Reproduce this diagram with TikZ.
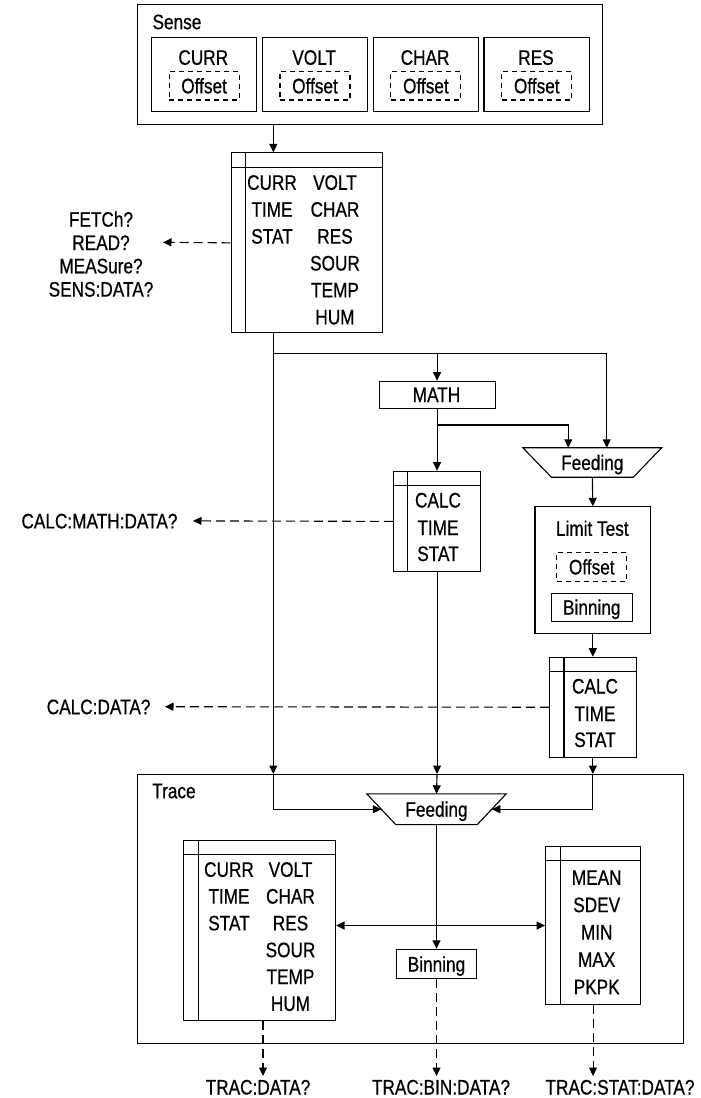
\documentclass[tikz,border=0pt]{standalone}
\usepackage{fontspec}
\setmainfont{Liberation Sans}[FakeStretch=0.82,FakeBold=0.6]
\usetikzlibrary{arrows.meta}
\begin{document}
\begin{tikzpicture}[x=1pt,y=-1pt,line width=1.1pt,
  every node/.style={font=\fontsize{21}{25}\selectfont},
  txt/.style={inner sep=0pt,text height=15pt,text depth=0pt},
  box/.style={draw,inner sep=0pt,anchor=north west},
  cbox/.style={draw,inner sep=0pt,text height=15pt,text depth=0pt},
  dbox/.style={cbox,dash pattern=on 5pt off 4pt},
  arr/.style={-{Triangle[length=8.5pt,width=8pt]}},
  darr/.style={arr,dash pattern=on 9pt off 5pt},
  tbl/.style={box,path picture={
    \draw ([yshift=-14.5pt]path picture bounding box.north west) -- ([yshift=-14.5pt]path picture bounding box.north east);
    \draw ([xshift=14.5pt]path picture bounding box.north west) -- ([xshift=14.5pt]path picture bounding box.south west);}}]
\useasboundingbox (0,0) rectangle (701,1098);

% ---------- Sense ----------
\node[box,minimum width=465.6pt,minimum height=120.3pt] (sense) at (136.7,4) {};
\node[txt,anchor=west] (senseL) at (152,21.7) {Sense};
\foreach \n/\x in {CURR/150.7,VOLT/261.6,CHAR/372.5,RES/483.4}{
  \node[box,minimum width=105.2pt,minimum height=73.7pt] (b\n) at (\x,37.3) {};
  \node[txt] (t\n) at ({\x+52.6},57.3) {\n};
  \node[dbox,minimum width=70pt,minimum height=28.3pt] (o\n) at ({\x+53.4},85.8) {Offset};
}

% ---------- main data table ----------
\node[tbl,minimum width=151.6pt,minimum height=180pt] (main) at (230.7,152.3) {};
\foreach \t [count=\i] in {CURR,TIME,STAT}
  \node[txt,name=mL\i] at (272,{182.3+26.9*(\i-1)}) {\t};
\foreach \t [count=\i] in {VOLT,CHAR,RES,SOUR,TEMP,HUM}
  \node[txt,name=mR\i] at (335,{182.3+26.9*(\i-1)}) {\t};

\node[txt] (q1) at (101,219.2) {FETCh?};
\node[txt] (q2) at (101,242.5) {READ?};
\node[txt] (q3) at (101,265.8) {MEASure?};
\node[txt] (q4) at (101,289.1) {SENS:DATA?};

% ---------- MATH / Feeding / Limit ----------
\node[box,minimum width=116pt,minimum height=27.6pt] (math) at (378.5,380.7) {};
\node[txt] (mathT) at (436.5,394.5) {MATH};

\node[inner sep=0pt,minimum width=137.7pt,minimum height=28.4pt,text height=15pt,text depth=0pt] (feed1) at (592.3,462.5) {Feeding};
\draw (feed1.north west) -- (feed1.north east) -- ([xshift=-28.5pt]feed1.south east) -- ([xshift=28.5pt]feed1.south west) -- cycle;

\node[tbl,minimum width=87.3pt,minimum height=100.3pt] (calc1) at (392.85,470.7) {};
\foreach \t/\y [count=\i] in {CALC/500,TIME/527.5,STAT/553.5}
  \node[txt,name=c1\i] at (438,\y) {\t};

\node[box,minimum width=115.7pt,minimum height=127pt] (limit) at (534.45,506.3) {};
\node[txt] (limitT) at (592.3,528.3) {Limit Test};
\node[dbox,minimum width=70pt,minimum height=28.3pt] (limO) at (591.8,566.9) {Offset};
\node[cbox,minimum width=81.3pt,minimum height=27.7pt] (bin1) at (591.8,607.2) {Binning};

\node[tbl,minimum width=86.7pt,minimum height=100pt] (calc2) at (548.95,656.7) {};
\foreach \t/\y [count=\i] in {CALC/686,TIME/713.5,STAT/739.5}
  \node[txt,name=c2\i] at (595,\y) {\t};

\node[txt,anchor=east] (qm) at (178,520.9) {CALC:MATH:DATA?};
\node[txt,anchor=east] (qd) at (151,706.7) {CALC:DATA?};

% ---------- Trace ----------
\node[box,minimum width=545.9pt,minimum height=269pt] (trace) at (136.7,774) {};
\node[txt,anchor=west] (traceL) at (151.7,790.7) {Trace};

\node[inner sep=0pt,minimum width=138.4pt,minimum height=29.7pt,text height=15pt,text depth=0pt] (feed2) at (436.5,809.2) {Feeding};
\draw (feed2.north west) -- (feed2.north east) -- ([xshift=-29pt]feed2.south east) -- ([xshift=29pt]feed2.south west) -- cycle;

\node[tbl,minimum width=151.7pt,minimum height=180.5pt] (trL) at (183.3,839.7) {};
\foreach \t [count=\i] in {CURR,TIME,STAT}
  \node[txt,name=tL\i] at (229,{869.3+26.8*(\i-1)}) {\t};
\foreach \t [count=\i] in {VOLT,CHAR,RES,SOUR,TEMP,HUM}
  \node[txt,name=tR\i] at (290.5,{869.3+26.8*(\i-1)}) {\t};

\node[tbl,minimum width=95pt,minimum height=158.6pt] (trM) at (545,845.7) {};
\foreach \t [count=\i] in {MEAN,SDEV,MIN,MAX,PKPK}
  \node[txt,name=tM\i] at (596.7,{877.3+27.35*(\i-1)}) {\t};

\node[cbox,minimum width=80.7pt,minimum height=29.4pt] (bin2) at (436.5,964) {Binning};

\node[txt] (r1) at (258,1087) {TRAC:DATA?};
\node[txt] (r2) at (441,1087) {TRAC:BIN:DATA?};
\node[txt] (r3) at (620,1087) {TRAC:STAT:DATA?};

% ---------- coordinates ----------
\coordinate (cx) at (273.3,0);
\coordinate (j1) at (273.3,353.3);
\coordinate (rx) at (606.7,353.3);
\coordinate (y425) at (0,425);
\coordinate (lx) at (568.3,0);
\coordinate (f2L) at ([xshift=14.5pt]feed2.west);
\coordinate (f2R) at ([xshift=-14.5pt]feed2.east);
\coordinate (qt1) at (163,242.3);
\coordinate (qt2) at (193,520.9);
\coordinate (qt3) at (165,706.7);
\coordinate (dx) at (263,0);
\coordinate (tipy) at (0,1076);

% ---------- connectors ----------
\draw[arr] (sense.south -| cx) -- (main.north -| cx);
\draw[arr] (main.south -| cx) -- (trace.north -| cx);
\draw[arr] (trace.north -| cx) |- (f2L);
\draw[arr] (j1) -- (rx) -- (rx |- feed1.north);
\draw[arr] (math.north |- j1) -- (math.north);
\draw[arr] (math.south) -- (calc1.north);
\draw[arr] (math.south |- y425) -| (feed1.north -| lx);
\draw[arr] (feed1.south) -- (limit.north);
\draw[arr] (limit.south) -- (calc2.north);
\draw[arr] (calc1.south) -- (calc1.south |- trace.north);
\draw[arr] (calc1.south |- trace.north) -- (feed2.north);
\draw[arr] (calc2.south) -- (calc2.south |- trace.north);
\draw[arr] (calc2.south |- trace.north) |- (f2R);
\draw[arr] (feed2.south) -- (bin2.north);
\draw[{Triangle[length=8.5pt,width=8pt]}-{Triangle[length=8.5pt,width=8pt]}] (trL.east |- trM.west) -- (trM.west);

\draw[darr] (main.west) -- (qt1);
\draw[darr] (calc1.west) -- (qt2);
\draw[darr] (calc2.west) -- (qt3);
\draw[darr] (trL.south -| dx) -- (dx |- tipy);
\draw[darr] (bin2.south) -- (bin2.south |- tipy);
\draw[darr] (trM.south) -- (trM.south |- tipy);
\end{tikzpicture}
\end{document}
